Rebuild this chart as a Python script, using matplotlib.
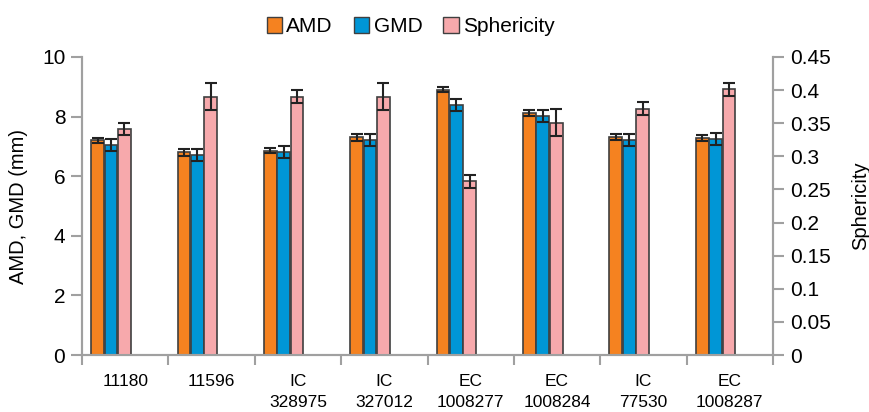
import numpy as np
import matplotlib.pyplot as plt
from matplotlib.patches import Patch

plt.rcParams['font.family'] = ['Liberation Sans', 'DejaVu Sans']

# datos
categorias = ['11180', '11596', 'IC\n328975', 'IC\n327012', 'EC\n1008277',
              'EC\n1008284', 'IC\n77530', 'EC\n1008287']
amd = [7.2, 6.8, 6.85, 7.3, 8.9, 8.13, 7.3, 7.28]
amd_err = [0.08, 0.12, 0.08, 0.12, 0.08, 0.1, 0.1, 0.1]
gmd = [7.05, 6.72, 6.8, 7.22, 8.38, 8.02, 7.22, 7.25]
gmd_err = [0.2, 0.2, 0.2, 0.2, 0.2, 0.2, 0.2, 0.2]
esfericidad = [0.341, 0.39, 0.39, 0.39, 0.262, 0.351, 0.372, 0.401]
esf_err = [0.009, 0.02, 0.01, 0.02, 0.01, 0.02, 0.01, 0.01]

c_amd = '#F58220'
c_gmd = '#0096D6'
c_esf = '#F7A9AC'
borde = '#3f3f3f'
gris = '#a0a0a0'

x = np.arange(len(categorias))
ancho = 0.148

fig = plt.figure(figsize=(8.7, 4.12), dpi=100)
ax = fig.add_axes([0.0943, 0.1383, 0.7942, 0.7234])
ax2 = ax.twinx()

err_kw = dict(ecolor='#222222', elinewidth=1.5, capsize=4, capthick=1.5)
ax.bar(x + 0.18, amd, ancho, yerr=amd_err, color=c_amd, edgecolor=borde,
       linewidth=1.2, error_kw=err_kw, zorder=2)
ax.bar(x + 0.335, gmd, ancho, yerr=gmd_err, color=c_gmd, edgecolor=borde,
       linewidth=1.2, error_kw=err_kw, zorder=2)
ax2.bar(x + 0.49, esfericidad, ancho, yerr=esf_err, color=c_esf, edgecolor=borde,
        linewidth=1.2, error_kw=err_kw, zorder=2)

ax.set_xlim(0, len(categorias))
ax.set_ylim(0, 10)
ax2.set_ylim(0, 0.45)
ax.set_yticks([0, 2, 4, 6, 8, 10])
ax2.set_yticks(np.arange(0, 0.451, 0.05))
ax2.set_yticklabels(['0', '0.05', '0.1', '0.15', '0.2', '0.25', '0.3', '0.35', '0.4', '0.45'])

ax.set_xticks(np.arange(0, len(categorias) + 1))
ax.set_xticklabels([])
ax.set_xticks(x + 0.5, minor=True)
ax.set_xticklabels(categorias, minor=True, fontsize=12.5, linespacing=1.45)
ax.tick_params(axis='x', which='minor', length=0, pad=14)
ax.tick_params(axis='x', which='major', length=7, width=1.5, color=gris)
ax.tick_params(axis='y', length=8, width=1.5, color=gris, labelsize=15, pad=4)
ax2.tick_params(axis='y', length=8, width=1.5, color=gris, labelsize=15, pad=4)

for a in (ax, ax2):
    a.spines['top'].set_visible(False)
    for s in ('left', 'right', 'bottom'):
        a.spines[s].set_color(gris)
        a.spines[s].set_linewidth(1.5)

ax.set_ylabel('AMD, GMD (mm)', fontsize=14.5)
ax.yaxis.set_label_coords(-0.078, 0.5)
ax2.set_ylabel('Sphericity', fontsize=14.5, rotation=90)
ax2.yaxis.set_label_coords(1.113, 0.5)

handles = [Patch(facecolor=c_amd, edgecolor=borde, label='AMD'),
           Patch(facecolor=c_gmd, edgecolor=borde, label='GMD'),
           Patch(facecolor=c_esf, edgecolor=borde, label='Sphericity')]
fig.legend(handles=handles, loc='center', bbox_to_anchor=(0.472, 0.935), ncol=3,
           frameon=False, fontsize=15, handlelength=0.75, handleheight=0.75,
           handletextpad=0.2, columnspacing=1.0)

fig.savefig('out.png', dpi=100)
